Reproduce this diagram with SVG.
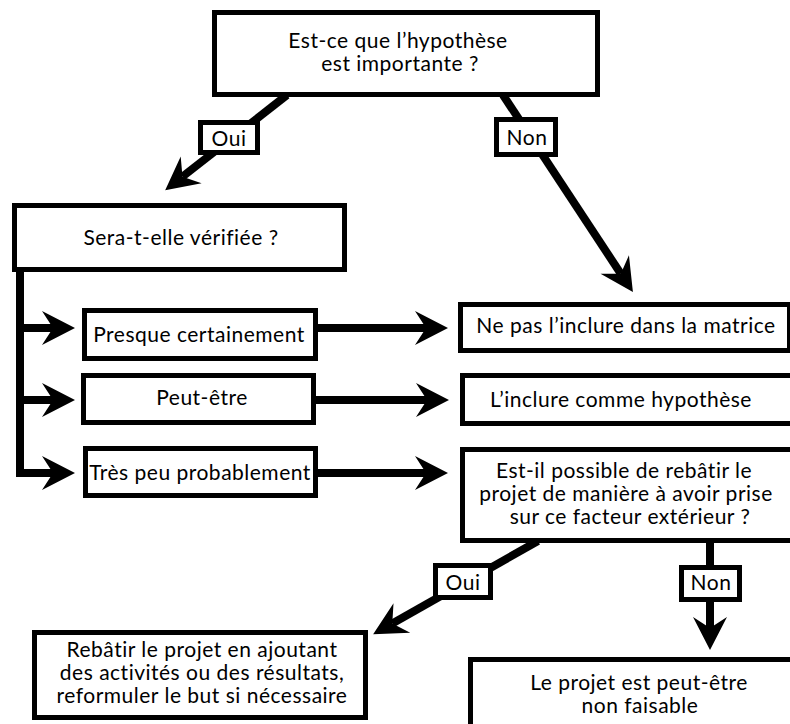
<svg xmlns="http://www.w3.org/2000/svg" width="790" height="724" viewBox="0 0 790 724">
<style>
.box{fill:#fff;stroke:#000;stroke-width:5}
.lbl{fill:#fff;stroke:#000;stroke-width:5}
.ln{fill:none;stroke:#000;stroke-width:8;stroke-linejoin:miter}
text{font-family:Lato,"Open Sans","DejaVu Sans",sans-serif;font-size:21px;letter-spacing:0.5px;fill:#000;text-anchor:middle}
</style>
<defs>
<marker id="ah" markerUnits="userSpaceOnUse" markerWidth="34" markerHeight="36" viewBox="0 -18 34 36" refX="11" refY="0" orient="auto" overflow="visible">
<path d="M0,-17 L33,0 L0,17 L11,0 Z" fill="#000"/>
</marker>
</defs>
<rect width="790" height="724" fill="#fff"/>
<g id="connectors">
<path class="ln" d="M287,95 L182.5,176.7" marker-end="url(#ah)"/>
<path class="ln" d="M503,95 L620.8,273.7" marker-end="url(#ah)"/>
<path class="ln" d="M20,270 L20,473 L53,473" marker-end="url(#ah)"/>
<path class="ln" d="M20,328 L53,328" marker-end="url(#ah)"/>
<path class="ln" d="M20,400 L53,400" marker-end="url(#ah)"/>
<path class="ln" d="M316,328 L426,328" marker-end="url(#ah)"/>
<path class="ln" d="M314,400 L427,400" marker-end="url(#ah)"/>
<path class="ln" d="M316,473 L426,473" marker-end="url(#ah)"/>
<path class="ln" d="M538,541 L392.3,623.4" marker-end="url(#ah)"/>
<path class="ln" d="M710,541 L710,628" marker-end="url(#ah)"/>
<g id="lbl-oui-1"><rect class="lbl" x="200.5" y="122.5" width="57" height="30"/><text x="229" y="146">Oui</text></g>
<g id="lbl-non-1"><rect class="lbl" x="496.5" y="119.5" width="59" height="35"/><text x="527" y="145">Non</text></g>
<g id="lbl-oui-2"><rect class="lbl" x="435.5" y="565.5" width="55" height="32"/><text x="463" y="590">Oui</text></g>
<g id="lbl-non-2"><rect class="lbl" x="681.5" y="567.5" width="58" height="32"/><text x="711" y="590">Non</text></g>
</g>
<g id="n-important"><rect class="box" x="214.5" y="12.5" width="383" height="82"/><text x="398" y="48">Est-ce que l’hypothèse</text><text x="400" y="71">est importante ?</text></g>
<g id="n-verifiee"><rect class="box" x="14.5" y="205.5" width="330" height="64"/><text x="181" y="245">Sera-t-elle vérifiée ?</text></g>
<g id="n-presque"><rect class="box" x="84.5" y="310.5" width="231" height="48"/><text x="199" y="342">Presque certainement</text></g>
<g id="n-peutetre"><rect class="box" x="83.5" y="375.5" width="230" height="47"/><text x="202" y="405">Peut-être</text></g>
<g id="n-trespeu"><rect class="box" x="85.5" y="448.5" width="230" height="47"/><text x="200" y="480">Très peu probablement</text></g>
<g id="n-nepas"><rect class="box" x="460.5" y="304.5" width="329" height="46"/><text x="626" y="333">Ne pas l’inclure dans la matrice</text></g>
<g id="n-inclure"><rect class="box" x="462.5" y="375.5" width="340" height="48"/><text x="621" y="407">L’inclure comme hypothèse</text></g>
<g id="n-rebatir-q"><rect class="box" x="462.5" y="449.5" width="340" height="91"/><text x="624" y="478">Est-il possible de rebâtir le</text><text x="626" y="501">projet de manière à avoir prise</text><text x="630" y="524">sur ce facteur extérieur ?</text></g>
<g id="n-rebatir"><rect class="box" x="34.5" y="632.5" width="331" height="85"/><text x="202" y="657">Rebâtir le projet en ajoutant</text><text x="202" y="680">des activités ou des résultats,</text><text x="202" y="703">reformuler le but si nécessaire</text></g>
<g id="n-nonfaisable"><rect class="box" x="470.5" y="659.5" width="340" height="80"/><text x="639" y="690">Le projet est peut-être</text><text x="640" y="713">non faisable</text></g>
</svg>
